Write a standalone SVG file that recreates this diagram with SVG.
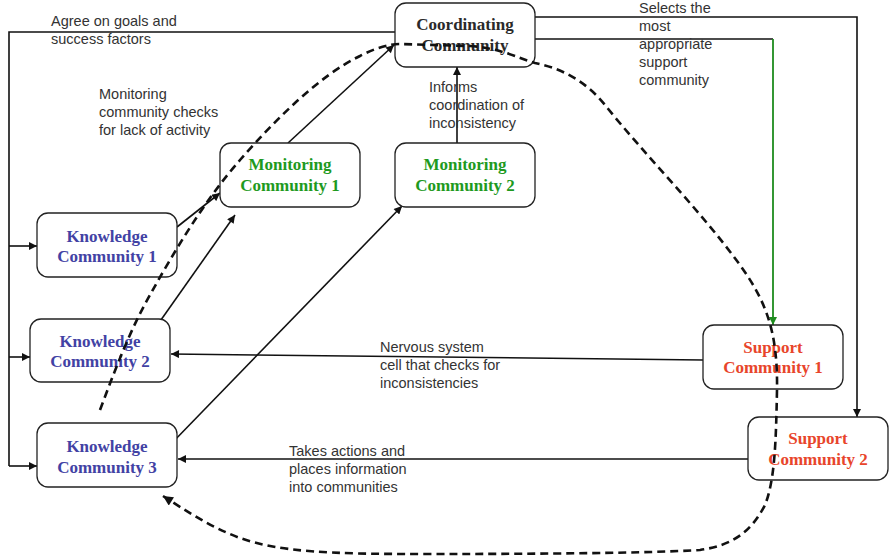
<svg xmlns="http://www.w3.org/2000/svg" width="889" height="558" viewBox="0 0 889 558">
  <defs>
    <marker id="arr" viewBox="0 0 10 10" refX="10" refY="5" markerWidth="9" markerHeight="8" markerUnits="userSpaceOnUse" orient="auto">
      <path d="M0,0 L10,5 L0,10 z" fill="#111"/>
    </marker>
    <marker id="arrG" viewBox="0 0 10 10" refX="10" refY="5" markerWidth="9" markerHeight="8" markerUnits="userSpaceOnUse" orient="auto">
      <path d="M0,0 L10,5 L0,10 z" fill="#1e8c1e"/>
    </marker>
    <marker id="arrD" viewBox="0 0 10 10" refX="10" refY="5" markerWidth="11" markerHeight="10" markerUnits="userSpaceOnUse" orient="auto">
      <path d="M0,0 L10,5 L0,10 z" fill="#111"/>
    </marker>
  </defs>
  <style>
    .box { fill: #fff; stroke: #222; stroke-width: 1.3; }
    .nt { font-family: "Liberation Serif", "Times New Roman", serif; font-weight: bold; font-size: 17px; text-anchor: middle; }
    .coord { fill: #2a2a2a; }
    .mon { fill: #1e9a1e; }
    .know { fill: #4242a4; }
    .sup { fill: #e8452b; }
    .lbl { font-family: "Liberation Sans", Arial, sans-serif; font-size: 14.5px; fill: #333; }
    .ln { fill: none; stroke: #111; stroke-width: 1.6; }
    .lnG { fill: none; stroke: #1e8c1e; stroke-width: 1.8; }
    .dash { fill: none; stroke: #111; stroke-width: 2.6; stroke-dasharray: 8 5; }
  </style>

  <rect width="889" height="558" fill="#fff"/>

  <!-- connectors -->
  <g id="connectors">
    <!-- goal agreement feed to knowledge communities -->
    <polyline class="ln" points="395,32 9,32 9,466"/>
    <line class="ln" x1="9" y1="246" x2="37" y2="246" marker-end="url(#arr)"/>
    <line class="ln" x1="9" y1="357" x2="30" y2="357" marker-end="url(#arr)"/>
    <line class="ln" x1="9" y1="466" x2="37" y2="466" marker-end="url(#arr)"/>
    <!-- selection of support communities -->
    <polyline class="ln" points="535,17 857,17 857,417" marker-end="url(#arr)"/>
    <polyline class="ln" points="535,39 773,39"/>
    <line class="lnG" x1="773" y1="39" x2="773" y2="325" marker-end="url(#arrG)"/>
    <!-- knowledge to monitoring -->
    <line class="ln" x1="177" y1="227" x2="220" y2="193" marker-end="url(#arr)"/>
    <line class="ln" x1="156" y1="327" x2="235" y2="215" marker-end="url(#arr)"/>
    <line class="ln" x1="170" y1="445" x2="402" y2="206" marker-end="url(#arr)"/>
    <!-- monitoring to coordinating -->
    <line class="ln" x1="288" y1="143" x2="394" y2="45" marker-end="url(#arr)"/>
    <line class="ln" x1="457" y1="143" x2="457" y2="67" marker-end="url(#arr)"/>
    <!-- support to knowledge -->
    <line class="ln" x1="703" y1="360" x2="171" y2="354" stroke-width="2" marker-end="url(#arr)"/>
    <line class="ln" x1="750" y1="459" x2="178" y2="459" marker-end="url(#arr)"/>
  </g>

  <!-- nodes -->
  <g id="coordinating">
    <rect class="box" x="395" y="3" width="140" height="64" rx="11"/>
    <text class="nt coord" x="465" y="30">Coordinating</text>
    <text class="nt coord" x="465" y="51">Community</text>
  </g>
  <g id="monitoring1">
    <rect class="box" x="220" y="143" width="140" height="64" rx="11"/>
    <text class="nt mon" x="290" y="170">Monitoring</text>
    <text class="nt mon" x="290" y="191">Community 1</text>
  </g>
  <g id="monitoring2">
    <rect class="box" x="395" y="143" width="140" height="64" rx="11"/>
    <text class="nt mon" x="465" y="170">Monitoring</text>
    <text class="nt mon" x="465" y="191">Community 2</text>
  </g>
  <g id="knowledge1">
    <rect class="box" x="37" y="213" width="140" height="64" rx="11"/>
    <text class="nt know" x="107" y="242">Knowledge</text>
    <text class="nt know" x="107" y="262">Community 1</text>
  </g>
  <g id="knowledge2">
    <rect class="box" x="30" y="319" width="140" height="63" rx="11"/>
    <text class="nt know" x="100" y="347">Knowledge</text>
    <text class="nt know" x="100" y="367">Community 2</text>
  </g>
  <g id="knowledge3">
    <rect class="box" x="37" y="423" width="140" height="64" rx="11"/>
    <text class="nt know" x="107" y="452">Knowledge</text>
    <text class="nt know" x="107" y="473">Community 3</text>
  </g>
  <g id="support1">
    <rect class="box" x="703" y="325" width="140" height="64" rx="11"/>
    <text class="nt sup" x="773" y="353">Support</text>
    <text class="nt sup" x="773" y="373">Community 1</text>
  </g>
  <g id="support2">
    <rect class="box" x="748" y="417" width="140" height="63" rx="11"/>
    <text class="nt sup" x="818" y="444">Support</text>
    <text class="nt sup" x="818" y="465">Community 2</text>
  </g>

  <!-- feedback loop, drawn over the nodes -->
  <g id="feedback-loop">
    <path class="dash" marker-end="url(#arrD)" d="M100,410 C115,370 130,330 150,295 C175,250 205,200 240,160 C275,120 320,75 360,56 C375,48 390,44 400,44 L470,46 C500,48 518,58 535,63 C560,68 585,80 605,105 C645,155 700,210 740,265 C765,300 778,330 777,390 C776,440 775,480 765,505 C752,530 735,545 700,550 C650,553 550,554 420,554 C330,554 280,552 240,538 C210,527 185,510 163,496"/>
  </g>

  <!-- annotations -->
  <g id="labels">
    <text class="lbl" x="51" y="26">Agree on goals and</text>
    <text class="lbl" x="51" y="44">success factors</text>
    <text class="lbl" x="99" y="99">Monitoring</text>
    <text class="lbl" x="99" y="117">community checks</text>
    <text class="lbl" x="99" y="135">for lack of activity</text>
    <text class="lbl" x="429" y="92">Informs</text>
    <text class="lbl" x="429" y="110">coordination of</text>
    <text class="lbl" x="429" y="128">inconsistency</text>
    <text class="lbl" x="639" y="13">Selects the</text>
    <text class="lbl" x="639" y="31">most</text>
    <text class="lbl" x="639" y="49">appropriate</text>
    <text class="lbl" x="639" y="67">support</text>
    <text class="lbl" x="639" y="85">community</text>
    <text class="lbl" x="380" y="352">Nervous system</text>
    <text class="lbl" x="380" y="370">cell that checks for</text>
    <text class="lbl" x="380" y="388">inconsistencies</text>
    <text class="lbl" x="289" y="456">Takes actions and</text>
    <text class="lbl" x="289" y="474">places information</text>
    <text class="lbl" x="289" y="492">into communities</text>
  </g>
</svg>
